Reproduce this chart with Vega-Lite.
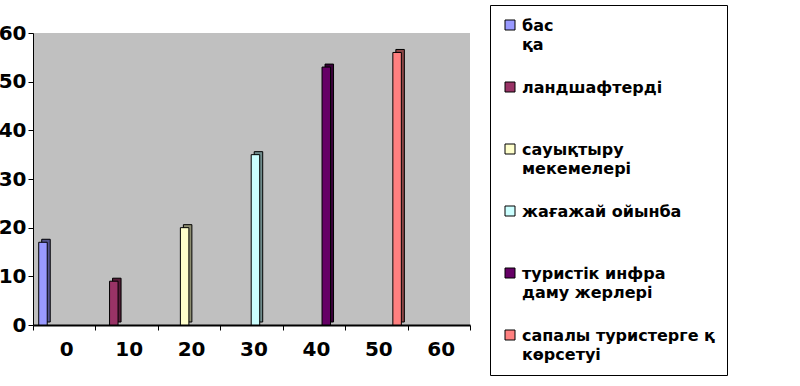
{
  "$schema": "https://vega.github.io/schema/vega-lite/v6.json",
  "width": 437,
  "height": 292,
  "autosize": {"type": "none"},
  "padding": {"left": 33, "top": 33, "right": 330, "bottom": 61},
  "background": "white",
  "config": {
    "view": {"fill": "#c0c0c0", "stroke": null},
    "font": "DejaVu Sans"
  },
  "datasets": {
    "bars": [
      {"series": "бас\nқа", "value": 17},
      {"series": "ландшафтерді", "value": 9},
      {"series": "сауықтыру\nмекемелері", "value": 20},
      {"series": "жағажай ойынба", "value": 35},
      {"series": "туристік инфра\nдаму жерлері", "value": 53},
      {"series": "сапалы туристерге қ\nкөрсетуі", "value": 56}
    ],
    "cats": [
      {"label": "0"}, {"label": "10"}, {"label": "20"}, {"label": "30"},
      {"label": "40"}, {"label": "50"}, {"label": "60"}
    ]
  },
  "layer": [
    {
      "data": {"name": "bars"},
      "layer": [
        {
          "mark": {"type": "bar", "xOffset": 3, "yOffset": -3, "stroke": "black", "strokeWidth": 1}
        },
        {
          "mark": {"type": "bar", "xOffset": 3, "yOffset": -3, "fillOpacity": 0.45, "stroke": null},
          "encoding": {"color": {"value": "black"}}
        },
        {
          "mark": {"type": "bar", "stroke": "black", "strokeWidth": 1}
        }
      ],
      "encoding": {
        "x": {
          "field": "series",
          "type": "nominal",
          "sort": null,
          "scale": {"paddingInner": 0.88, "paddingOuter": 0.525, "align": 0.077},
          "axis": null
        },
        "y": {
          "field": "value",
          "type": "quantitative",
          "scale": {"domain": [0, 60], "nice": false},
          "axis": {
            "title": null,
            "values": [0, 10, 20, 30, 40, 50, 60],
            "grid": false,
            "domainColor": "black",
            "domainWidth": 1,
            "tickColor": "black",
            "tickSize": 5,
            "labelFont": "DejaVu Sans",
            "labelFontSize": 20,
            "labelFontWeight": "bold",
            "labelColor": "black",
            "labelPadding": 2
          }
        },
        "color": {
          "field": "series",
          "type": "nominal",
          "sort": null,
          "scale": {
            "domain": ["бас\nқа", "ландшафтерді", "сауықтыру\nмекемелері", "жағажай ойынба", "туристік инфра\nдаму жерлері", "сапалы туристерге қ\nкөрсетуі"],
            "range": ["#9999ff", "#993366", "#ffffcc", "#ccffff", "#660066", "#ff8080"]
          },
          "legend": {
            "title": null,
            "orient": "none",
            "legendX": 457,
            "legendY": -28,
            "padding": 12,
            "strokeColor": "black",
            "fillColor": "white",
            "symbolType": "square",
            "symbolSize": 100,
            "symbolStrokeColor": "black",
            "symbolStrokeWidth": 1,
            "labelFont": "DejaVu Sans",
            "labelFontSize": 16,
            "labelFontWeight": "bold",
            "labelColor": "black",
            "labelLimit": 400,
            "labelOffset": 4,
            "labelBaseline": "top",
            "labelExpr": "split(datum.label, '\\n')",
            "gridAlign": "all",
            "rowPadding": 26,
            "encode": {
              "labels": {"update": {"dy": {"value": -7}, "lineHeight": {"value": 19}}}
            }
          }
        }
      }
    },
    {
      "data": {"name": "cats"},
      "mark": {"type": "bar", "opacity": 0},
      "encoding": {
        "x": {
          "field": "label",
          "type": "ordinal",
          "sort": null,
          "scale": {"paddingInner": 0, "paddingOuter": 0},
          "axis": {
            "title": null,
            "orient": "bottom",
            "labelAngle": 0,
            "tickBand": "extent",
            "domainColor": "black",
            "domainWidth": 2,
            "tickColor": "black",
            "tickSize": 5,
            "labelFont": "DejaVu Sans",
            "labelFontSize": 20,
            "labelFontWeight": "bold",
            "labelColor": "black",
            "labelOffset": 2,
            "labelPadding": 9
          }
        }
      }
    }
  ],
  "resolve": {"scale": {"x": "independent"}, "axis": {"x": "independent"}}
}
